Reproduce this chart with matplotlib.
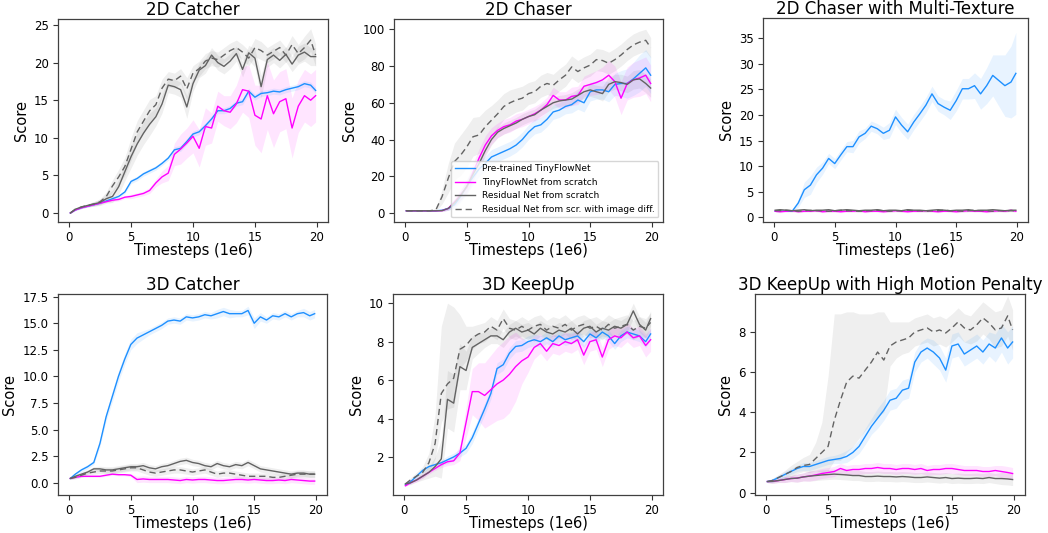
import numpy as np
import matplotlib
matplotlib.use("Agg")
import matplotlib.pyplot as plt

# timesteps (1e6), one reading every 0.5
steps = [0.1] + [0.5 * i for i in range(1, 40)] + [19.9]

labels = ["Pre-trained TinyFlowNet", "TinyFlowNet from scratch",
          "Residual Net from scratch", "Residual Net from scr. with image diff."]

# ---- 2D Catcher
catcher2d_pre = [0.0, 0.4, 0.7, 0.9, 1.1, 1.3, 1.6, 1.9, 2.2, 2.8,
                 4.2, 4.6, 5.2, 5.6, 6.0, 6.6, 7.3, 8.4, 8.6, 9.5,
                 10.5, 10.8, 11.6, 12.5, 13.6, 13.6, 13.9, 14.6, 14.8, 16.2,
                 15.4, 15.9, 16.0, 16.2, 16.1, 16.4, 16.6, 16.8, 17.2, 17.0, 16.3]
catcher2d_scr = [0.0, 0.4, 0.7, 0.9, 1.1, 1.3, 1.5, 1.7, 1.8, 2.1,
                 2.2, 2.4, 2.6, 3.0, 4.0, 4.8, 5.3, 7.8, 8.5, 9.3,
                 10.2, 8.6, 11.5, 11.3, 14.2, 13.6, 13.4, 14.5, 16.4, 16.2,
                 13.0, 12.5, 15.6, 13.2, 14.8, 15.2, 11.3, 14.2, 15.6, 15.0, 15.6]
catcher2d_res = [0.0, 0.5, 0.8, 1.0, 1.2, 1.4, 1.9, 2.2, 3.5, 5.5,
                 7.5, 9.2, 10.6, 11.8, 12.8, 14.5, 17.0, 16.8, 16.4, 14.1,
                 17.2, 19.0, 19.6, 21.0, 20.0, 19.5, 20.2, 21.2, 19.1, 21.3,
                 20.6, 16.8, 20.4, 21.0, 20.3, 21.1, 19.8, 21.0, 21.4, 20.8, 20.8]
catcher2d_diff = [0.0, 0.5, 0.8, 1.0, 1.2, 1.5, 2.2, 3.6, 4.8, 6.2,
                  8.5, 10.8, 12.2, 13.6, 14.4, 16.6, 17.8, 17.6, 18.2, 16.5,
                  18.6, 19.2, 20.2, 20.6, 20.4, 21.0, 21.6, 22.0, 21.4, 20.6,
                  22.0, 21.6, 21.0, 21.5, 22.0, 21.0, 22.4, 21.2, 22.0, 23.0, 21.0]
catcher2d_pre_sd = [0.05, 0.1, 0.1, 0.1, 0.1, 0.1, 0.15, 0.2, 0.2, 0.2,
                    0.3, 0.3, 0.3, 0.3, 0.3, 0.3, 0.3, 0.4, 0.4, 0.4,
                    0.4, 0.4, 0.4, 0.4, 0.4, 0.4, 0.4, 0.4, 0.4, 0.4,
                    0.4, 0.4, 0.4, 0.4, 0.4, 0.4, 0.4, 0.4, 0.4, 0.4, 0.4]
catcher2d_scr_sd = [0.05, 0.1, 0.1, 0.1, 0.1, 0.1, 0.1, 0.2, 0.2, 0.2,
                    0.3, 0.3, 0.3, 0.4, 0.5, 0.8, 1.0, 1.5, 2.0, 2.0,
                    2.2, 2.5, 2.5, 2.0, 2.0, 2.0, 2.2, 2.5, 3.0, 3.5,
                    4.0, 4.5, 4.5, 4.5, 4.0, 4.0, 4.0, 3.5, 3.5, 3.5, 3.5]
catcher2d_res_sd = [0.05, 0.1, 0.2, 0.2, 0.3, 0.4, 0.6, 0.8, 1.0, 1.2,
                    1.5, 1.5, 1.5, 1.5, 1.2, 1.2, 1.0, 1.0, 1.0, 1.5,
                    1.0, 1.0, 1.0, 1.0, 1.0, 1.0, 1.0, 1.0, 1.0, 1.0,
                    1.2, 1.5, 1.0, 1.0, 1.0, 1.0, 1.0, 1.2, 1.2, 1.2, 1.2]
catcher2d_diff_sd = [0.05, 0.1, 0.2, 0.2, 0.3, 0.4, 0.6, 0.8, 1.0, 1.2,
                     1.5, 1.5, 1.5, 1.5, 1.2, 1.2, 1.0, 1.0, 1.0, 1.5,
                     1.0, 1.0, 1.0, 1.0, 1.0, 1.0, 1.0, 1.0, 1.0, 1.0,
                     1.2, 1.2, 1.0, 1.0, 1.0, 1.0, 1.2, 1.2, 1.5, 1.5, 1.5]

# ---- 2D Chaser
chaser_pre = [1.2, 1.2, 1.2, 1.2, 1.2, 1.2, 1.5, 2.5, 4.5, 9.0,
              14.5, 19.5, 24.0, 27.0, 30.5, 32.0, 33.5, 35.0, 37.0, 40.0,
              44.0, 47.0, 48.0, 51.0, 55.0, 56.0, 58.0, 59.0, 61.5, 60.0,
              66.0, 67.0, 67.0, 66.0, 70.0, 70.5, 70.5, 73.0, 76.0, 79.0, 75.0]
chaser_scr = [1.2, 1.2, 1.2, 1.2, 1.2, 1.2, 1.3, 2.5, 6.0, 10.0,
              14.0, 22.0, 30.0, 37.0, 42.0, 45.0, 47.0, 48.0, 50.0, 51.0,
              52.5, 54.0, 56.0, 59.0, 64.0, 61.5, 61.5, 63.5, 64.0, 69.0,
              70.0, 71.0, 72.5, 75.0, 71.5, 62.5, 70.5, 72.5, 73.5, 75.0, 70.5]
chaser_res = [1.2, 1.2, 1.2, 1.2, 1.2, 1.2, 1.3, 2.5, 5.5, 9.5,
              14.5, 21.0, 27.0, 34.0, 40.0, 44.0, 46.0, 47.5, 49.0, 51.0,
              52.5, 53.5, 56.0, 58.0, 60.0, 61.0, 61.5, 62.0, 64.0, 66.0,
              67.0, 66.0, 65.0, 70.0, 71.5, 71.0, 70.0, 72.5, 73.0, 70.5, 68.0]
chaser_diff = [1.2, 1.2, 1.2, 1.2, 1.2, 1.8, 9.0, 19.0, 28.0, 31.5,
               36.0, 41.5, 42.5, 47.0, 50.5, 54.0, 58.0, 60.0, 61.5, 62.5,
               65.0, 66.0, 69.0, 70.5, 69.5, 72.5, 75.0, 79.5, 77.0, 79.0,
               80.5, 83.5, 83.0, 81.5, 83.5, 86.0, 89.0, 91.5, 93.0, 94.0, 90.0]
chaser_pre_sd = [0.2, 0.2, 0.2, 0.2, 0.2, 0.2, 0.5, 1.0, 2.0, 3.0,
                 4.0, 4.0, 4.0, 4.0, 4.0, 4.0, 4.0, 4.0, 4.0, 4.0,
                 4.0, 4.0, 4.0, 4.0, 4.0, 4.0, 4.0, 4.5, 5.0, 5.0,
                 5.0, 5.0, 5.0, 5.5, 6.0, 7.0, 8.0, 9.0, 10.0, 10.0, 10.0]
chaser_scr_sd = [0.2, 0.2, 0.2, 0.2, 0.2, 0.2, 0.5, 1.0, 2.0, 3.0,
                 4.0, 5.0, 5.0, 5.0, 4.5, 4.0, 4.0, 4.0, 4.0, 4.0,
                 4.0, 4.0, 4.0, 4.0, 4.5, 4.5, 4.5, 5.0, 5.0, 5.5,
                 6.0, 6.5, 7.0, 8.0, 8.5, 9.0, 9.0, 9.5, 10.0, 10.0, 10.0]
chaser_res_sd = [0.2, 0.2, 0.2, 0.2, 0.2, 0.2, 0.5, 1.0, 2.0, 2.5,
                 3.0, 3.0, 3.0, 3.0, 3.0, 3.0, 3.0, 3.0, 3.0, 3.0,
                 3.0, 3.0, 3.0, 3.0, 3.0, 3.0, 3.0, 3.5, 3.5, 3.5,
                 3.5, 3.5, 4.0, 4.0, 4.0, 4.5, 4.5, 5.0, 5.0, 5.0, 5.0]
chaser_diff_sd = [0.2, 0.2, 0.2, 0.2, 0.2, 0.8, 4.0, 8.0, 10.0, 11.0,
                  11.0, 10.5, 10.0, 9.0, 8.0, 7.5, 7.0, 7.0, 6.5, 6.5,
                  6.0, 6.0, 6.0, 6.0, 6.0, 6.0, 6.0, 6.0, 6.0, 6.0,
                  6.0, 6.0, 6.0, 6.0, 6.0, 6.0, 6.0, 6.0, 6.0, 6.0, 5.5]

# ---- 2D Chaser with Multi-Texture
texture_pre = [1.2, 1.2, 1.2, 1.2, 2.8, 5.4, 6.3, 8.3, 9.6, 11.5,
               10.5, 12.2, 13.8, 13.8, 15.7, 16.4, 17.8, 17.3, 16.4, 17.0,
               19.6, 18.0, 16.7, 18.6, 20.2, 21.9, 24.1, 22.2, 21.5, 20.9,
               22.8, 25.1, 25.1, 25.7, 24.1, 25.7, 27.7, 26.7, 25.7, 26.4, 28.1]
texture_scr = [1.2, 1.1, 1.2, 1.3, 1.1, 1.2, 1.2, 1.3, 1.1, 1.2,
               1.2, 1.1, 1.2, 1.2, 1.3, 1.1, 1.2, 1.2, 1.1, 1.2,
               1.3, 1.2, 1.1, 1.2, 1.2, 1.3, 1.2, 1.1, 1.2, 1.2,
               1.1, 1.2, 1.3, 1.2, 1.2, 1.1, 1.2, 1.3, 1.2, 1.4, 1.2]
texture_res = [1.4, 1.5, 1.4, 1.3, 1.4, 1.5, 1.3, 1.4, 1.4, 1.5,
               1.3, 1.4, 1.5, 1.4, 1.3, 1.4, 1.4, 1.5, 1.3, 1.4,
               1.4, 1.3, 1.5, 1.4, 1.4, 1.3, 1.4, 1.5, 1.4, 1.3,
               1.4, 1.4, 1.5, 1.3, 1.4, 1.4, 1.5, 1.4, 1.3, 1.4, 1.4]
texture_diff = [1.3, 1.3, 1.4, 1.3, 1.2, 1.3, 1.4, 1.3, 1.3, 1.2,
                1.3, 1.4, 1.3, 1.3, 1.2, 1.3, 1.3, 1.4, 1.3, 1.2,
                1.3, 1.3, 1.4, 1.3, 1.3, 1.2, 1.3, 1.3, 1.4, 1.3,
                1.3, 1.2, 1.3, 1.4, 1.3, 1.3, 1.2, 1.3, 1.3, 1.3, 1.3]
texture_pre_sd = [0.1, 0.1, 0.1, 0.1, 0.8, 1.5, 1.8, 1.5, 1.2, 1.0,
                  1.0, 1.0, 1.0, 1.2, 1.2, 1.0, 1.0, 1.0, 1.2, 1.5,
                  1.5, 1.5, 1.5, 1.5, 1.5, 1.5, 1.5, 1.5, 1.5, 1.8,
                  2.0, 2.0, 2.0, 2.5, 3.0, 3.5, 4.0, 5.0, 6.0, 7.0, 8.0]
texture_flat_sd = [0.2] * 41

# ---- 3D Catcher
catcher3d_pre = [0.4, 0.8, 1.2, 1.5, 1.9, 3.7, 6.2, 8.1, 10.0, 11.6,
                 13.0, 13.6, 13.9, 14.2, 14.5, 14.8, 15.2, 15.3, 15.2, 15.6,
                 15.5, 15.6, 15.8, 15.7, 15.9, 16.1, 15.9, 15.9, 15.9, 16.2,
                 15.0, 15.6, 15.3, 15.7, 15.6, 15.9, 15.6, 15.9, 16.0, 15.7, 15.9]
catcher3d_scr = [0.4, 0.5, 0.6, 0.6, 0.6, 0.6, 0.7, 0.8, 0.75, 0.75,
                 0.7, 0.3, 0.35, 0.3, 0.3, 0.3, 0.3, 0.25, 0.2, 0.3,
                 0.25, 0.3, 0.3, 0.25, 0.2, 0.2, 0.25, 0.3, 0.3, 0.25,
                 0.3, 0.25, 0.2, 0.2, 0.25, 0.2, 0.3, 0.25, 0.2, 0.15, 0.15]
catcher3d_res = [0.4, 0.6, 0.8, 1.0, 1.3, 1.3, 1.2, 1.2, 1.3, 1.4,
                 1.5, 1.5, 1.6, 1.4, 1.3, 1.5, 1.6, 1.8, 2.0, 2.1,
                 1.9, 1.8, 1.6, 1.5, 1.8, 1.6, 1.5, 1.7, 1.6, 1.9,
                 1.6, 1.3, 1.2, 1.1, 1.0, 0.9, 0.8, 0.9, 0.9, 0.8, 0.8]
catcher3d_diff = [0.4, 0.5, 0.7, 0.9, 1.0, 1.1, 1.1, 1.1, 1.2, 1.3,
                  1.4, 1.4, 1.2, 1.0, 0.9, 1.0, 1.1, 1.2, 1.2, 1.1,
                  1.0, 1.1, 1.2, 1.0, 0.8, 0.9, 0.9, 0.8, 0.7, 0.6,
                  0.6, 0.6, 0.6, 0.5, 0.5, 0.6, 0.7, 0.8, 0.8, 0.8, 0.8]
catcher3d_pre_sd = [0.1, 0.15, 0.2, 0.2, 0.2, 0.3, 0.4, 0.5, 0.5, 0.5,
                    0.5, 0.5, 0.4, 0.3, 0.3, 0.3, 0.3, 0.3, 0.3, 0.3,
                    0.3, 0.3, 0.3, 0.3, 0.4, 0.4, 0.4, 0.3, 0.3, 0.4,
                    0.5, 0.4, 0.3, 0.3, 0.3, 0.3, 0.3, 0.3, 0.4, 0.4, 0.4]
catcher3d_scr_sd = [0.05, 0.1, 0.1, 0.1, 0.1, 0.1, 0.1, 0.1, 0.1, 0.1,
                    0.15, 0.3, 0.3, 0.3, 0.3, 0.3, 0.3, 0.3, 0.3, 0.3,
                    0.3, 0.3, 0.3, 0.3, 0.3, 0.3, 0.3, 0.3, 0.3, 0.3,
                    0.3, 0.3, 0.3, 0.3, 0.3, 0.3, 0.3, 0.3, 0.3, 0.3, 0.3]
catcher3d_gray_sd = [0.1, 0.15, 0.2, 0.2, 0.2, 0.25, 0.3, 0.3, 0.3, 0.3,
                     0.3, 0.3, 0.3, 0.3, 0.3, 0.3, 0.3, 0.3, 0.3, 0.3,
                     0.3, 0.3, 0.3, 0.3, 0.3, 0.3, 0.3, 0.3, 0.3, 0.3,
                     0.3, 0.3, 0.3, 0.3, 0.3, 0.3, 0.3, 0.3, 0.3, 0.3, 0.3]

# ---- 3D KeepUp
keepup_pre = [0.55, 0.7, 1.0, 1.3, 1.5, 1.6, 1.7, 1.85, 2.0, 2.2,
              2.45, 3.0, 3.75, 4.5, 5.3, 6.6, 6.8, 7.4, 7.75, 7.8,
              8.0, 8.1, 8.0, 8.2, 8.0, 8.3, 8.1, 8.2, 8.3, 8.0,
              8.4, 8.2, 8.5, 8.3, 7.9, 8.3, 8.5, 8.4, 8.3, 8.0, 8.4]
keepup_scr = [0.5, 0.65, 0.8, 1.0, 1.2, 1.4, 1.6, 1.75, 1.8, 2.2,
              3.8, 5.4, 5.4, 5.2, 5.5, 5.8, 6.0, 6.3, 6.7, 7.0,
              7.2, 7.7, 7.9, 7.5, 7.9, 7.8, 8.0, 7.9, 8.1, 7.3,
              8.0, 8.1, 7.2, 8.1, 8.3, 8.2, 8.5, 8.2, 8.3, 7.8, 8.1]
keepup_res = [0.6, 0.65, 0.8, 1.0, 1.2, 1.5, 1.9, 5.0, 4.8, 6.7,
              6.5, 7.7, 7.9, 8.1, 8.3, 8.3, 8.1, 8.5, 8.7, 8.5,
              8.6, 8.4, 8.7, 8.5, 8.4, 8.6, 8.5, 8.7, 8.4, 8.7,
              8.8, 8.5, 8.7, 8.6, 8.8, 8.7, 8.9, 9.6, 8.9, 8.6, 9.2]
keepup_diff = [0.6, 0.8, 1.0, 1.2, 1.7, 2.7, 5.3, 5.8, 6.1, 7.6,
               7.8, 8.2, 8.4, 8.5, 8.8, 8.6, 9.2, 8.7, 8.6, 8.8,
               8.6, 8.8, 8.9, 8.6, 8.8, 8.7, 8.9, 8.6, 8.8, 8.9,
               8.7, 8.8, 8.6, 8.9, 8.7, 8.8, 8.9, 8.6, 8.8, 8.7, 9.0]
keepup_pre_sd = [0.05, 0.1, 0.1, 0.1, 0.1, 0.1, 0.15, 0.2, 0.2, 0.2,
                 0.25, 0.3, 0.3, 0.3, 0.3, 0.3, 0.3, 0.3, 0.3, 0.3,
                 0.3, 0.3, 0.3, 0.3, 0.3, 0.3, 0.3, 0.3, 0.3, 0.3,
                 0.3, 0.3, 0.3, 0.3, 0.3, 0.3, 0.3, 0.3, 0.3, 0.3, 0.3]
keepup_scr_sd = [0.05, 0.05, 0.1, 0.1, 0.1, 0.1, 0.15, 0.2, 0.2, 0.4,
                 0.8, 1.2, 1.5, 1.7, 1.8, 1.9, 2.0, 2.0, 1.8, 1.2,
                 0.8, 0.6, 0.5, 0.5, 0.5, 0.5, 0.5, 0.5, 0.5, 0.5,
                 0.5, 0.5, 0.5, 0.5, 0.5, 0.5, 0.5, 0.5, 0.5, 0.6, 0.6]
keepup_res_sd = [0.05, 0.1, 0.1, 0.2, 0.3, 0.5, 1.0, 1.5, 1.5, 1.2,
                 1.0, 0.6, 0.5, 0.4, 0.4, 0.4, 0.4, 0.4, 0.4, 0.4,
                 0.4, 0.4, 0.4, 0.4, 0.4, 0.4, 0.4, 0.4, 0.4, 0.4,
                 0.4, 0.4, 0.4, 0.4, 0.4, 0.4, 0.4, 0.4, 0.4, 0.4, 0.4]
keepup_diff_below = [0.05, 0.1, 0.2, 0.3, 0.5, 0.8, 1.5, 1.3, 1.5, 1.0,
                     0.8, 0.6, 0.5, 0.5, 0.5, 0.5, 0.5, 0.5, 0.5, 0.5,
                     0.5, 0.5, 0.5, 0.5, 0.5, 0.5, 0.5, 0.5, 0.5, 0.5,
                     0.5, 0.5, 0.5, 0.5, 0.5, 0.5, 0.5, 0.5, 0.5, 0.5, 0.5]
keepup_diff_above = [0.05, 0.1, 0.2, 0.3, 0.5, 1.5, 3.5, 4.2, 3.7, 1.8,
                     1.0, 0.6, 0.5, 0.5, 0.5, 0.5, 0.5, 0.5, 0.5, 0.5,
                     0.5, 0.5, 0.5, 0.5, 0.5, 0.5, 0.5, 0.5, 0.5, 0.5,
                     0.5, 0.5, 0.5, 0.5, 0.5, 0.5, 0.5, 0.5, 0.5, 0.5, 0.5]

# ---- 3D KeepUp with High Motion Penalty
motion_pre = [0.55, 0.6, 0.75, 0.9, 1.05, 1.2, 1.3, 1.3, 1.4, 1.5,
              1.6, 1.65, 1.7, 1.8, 2.0, 2.3, 2.8, 3.3, 3.7, 4.1,
              4.6, 4.7, 5.1, 5.2, 6.5, 7.0, 7.2, 7.0, 6.7, 6.1,
              7.3, 7.4, 6.9, 7.1, 7.3, 7.0, 7.4, 7.2, 7.7, 7.2, 7.5]
motion_scr = [0.55, 0.56, 0.6, 0.65, 0.7, 0.72, 0.78, 0.82, 0.88, 0.95,
              1.0, 1.05, 1.2, 1.1, 1.15, 1.15, 1.2, 1.2, 1.25, 1.2,
              1.2, 1.15, 1.2, 1.2, 1.15, 1.2, 1.1, 1.15, 1.15, 1.2,
              1.2, 1.15, 1.1, 1.1, 1.1, 1.05, 1.05, 1.1, 1.05, 1.0, 0.95]
motion_res = [0.55, 0.56, 0.6, 0.65, 0.7, 0.72, 0.78, 0.82, 0.85, 0.88,
              0.9, 0.92, 0.9, 0.88, 0.85, 0.85, 0.8, 0.8, 0.82, 0.8,
              0.8, 0.78, 0.8, 0.78, 0.75, 0.75, 0.78, 0.75, 0.72, 0.75,
              0.7, 0.72, 0.7, 0.7, 0.72, 0.7, 0.75, 0.7, 0.7, 0.68, 0.65]
motion_diff = [0.55, 0.6, 0.75, 0.9, 1.05, 1.25, 1.35, 1.4, 1.7, 2.0,
               2.3, 3.6, 4.6, 5.5, 5.8, 5.7, 6.1, 6.5, 7.0, 6.6,
               7.3, 7.5, 7.6, 7.7, 8.0, 8.1, 8.2, 8.0, 8.1, 7.95,
               8.2, 8.5, 8.2, 8.1, 8.35, 8.7, 8.45, 8.1, 8.2, 8.8, 8.1]
motion_pre_sd = [0.05, 0.1, 0.1, 0.15, 0.15, 0.15, 0.2, 0.2, 0.2, 0.2,
                 0.2, 0.2, 0.25, 0.3, 0.3, 0.35, 0.4, 0.4, 0.5, 0.5,
                 0.5, 0.5, 0.5, 0.5, 0.5, 0.5, 0.5, 0.6, 0.6, 0.6,
                 0.6, 0.6, 0.6, 0.6, 0.6, 0.6, 0.6, 0.7, 0.7, 0.8, 0.8]
motion_low_sd = [0.05, 0.1, 0.1, 0.15, 0.15, 0.2, 0.2, 0.25, 0.25, 0.25,
                 0.25, 0.25, 0.25, 0.25, 0.25, 0.25, 0.25, 0.25, 0.25, 0.25,
                 0.25, 0.25, 0.25, 0.25, 0.25, 0.25, 0.25, 0.25, 0.25, 0.25,
                 0.25, 0.25, 0.25, 0.25, 0.25, 0.25, 0.25, 0.25, 0.3, 0.3, 0.3]
motion_diff_below = [0.05, 0.1, 0.15, 0.2, 0.3, 0.3, 0.3, 0.4, 0.6, 1.0,
                     1.2, 2.0, 3.0, 3.5, 3.5, 3.0, 3.0, 3.0, 3.2, 2.6,
                     1.0, 0.8, 0.7, 0.7, 0.7, 0.7, 0.7, 0.7, 0.7, 0.7,
                     0.7, 0.7, 0.7, 0.7, 0.8, 0.8, 0.8, 0.9, 0.9, 1.0, 1.0]
motion_diff_above = [0.05, 0.1, 0.15, 0.2, 0.3, 0.3, 0.4, 0.5, 0.8, 1.5,
                     3.5, 5.3, 4.3, 3.5, 3.2, 3.2, 2.8, 2.4, 2.0, 2.4,
                     1.2, 1.0, 0.9, 0.8, 0.7, 0.7, 0.7, 0.7, 0.7, 0.7,
                     0.7, 0.7, 0.7, 0.7, 0.8, 0.8, 0.8, 0.9, 0.9, 1.0, 1.0]

colors = ["#1E90FF", "#FF00FF", "#636363", "#636363"]
styles = ["-", "-", "-", "--"]

panels = [
    ("2D Catcher", [catcher2d_pre, catcher2d_scr, catcher2d_res, catcher2d_diff],
     [catcher2d_pre_sd, catcher2d_scr_sd, catcher2d_res_sd, catcher2d_diff_sd],
     (-1.2, 25.8), [0, 5, 10, 15, 20, 25]),
    ("2D Chaser", [chaser_pre, chaser_scr, chaser_res, chaser_diff],
     [chaser_pre_sd, chaser_scr_sd, chaser_res_sd, chaser_diff_sd],
     (-4.9, 105.6), [0, 20, 40, 60, 80, 100]),
    ("2D Chaser with Multi-Texture", [texture_pre, texture_scr, texture_res, texture_diff],
     [texture_pre_sd, texture_flat_sd, texture_flat_sd, texture_flat_sd],
     (-0.9, 38.9), [0, 5, 10, 15, 20, 25, 30, 35]),
    ("3D Catcher", [catcher3d_pre, catcher3d_scr, catcher3d_res, catcher3d_diff],
     [catcher3d_pre_sd, catcher3d_scr_sd, catcher3d_gray_sd, catcher3d_gray_sd],
     (-1.16, 17.75), [0.0, 2.5, 5.0, 7.5, 10.0, 12.5, 15.0, 17.5]),
    ("3D KeepUp", [keepup_pre, keepup_scr, keepup_res, keepup_diff],
     [keepup_pre_sd, keepup_scr_sd, keepup_res_sd,
      (keepup_diff_below, keepup_diff_above)],
     (0.02, 10.48), [2, 4, 6, 8, 10]),
    ("3D KeepUp with High Motion Penalty", [motion_pre, motion_scr, motion_res, motion_diff],
     [motion_pre_sd, motion_low_sd, motion_low_sd,
      (motion_diff_below, motion_diff_above)],
     (-0.12, 9.89), [0, 2, 4, 6, 8]),
]

# axes boxes in pixels: left, top, right, bottom
boxes = [(58, 19, 328, 222), (394, 19, 663, 222), (763, 18, 1028, 222),
         (58, 294, 327, 495), (393, 294, 663, 495), (755, 294, 1025, 495)]
W, H = 1048, 533


def draw_panel(ax, title, series, spreads, ylim, yticks, show_legend):
    x = np.array(steps)
    for i in [3, 2, 1, 0]:
        y = np.array(series[i])
        if isinstance(spreads[i], tuple):
            lo, hi = np.array(spreads[i][0]), np.array(spreads[i][1])
        else:
            lo = hi = np.array(spreads[i])
        ax.fill_between(x, y - lo, y + hi, color=colors[i], alpha=0.1, lw=0)
    for i in range(4):
        line, = ax.plot(x, series[i], color=colors[i], ls=styles[i], lw=1.0,
                        label=labels[i])
        if styles[i] == "--":
            line.set_dashes((4.5, 2.8))
    ax.set_xlim(-0.9, 20.9)
    ax.set_ylim(*ylim)
    ax.set_xticks([0, 5, 10, 15, 20])
    ax.set_yticks(yticks)
    ax.tick_params(labelsize=8.5, length=3.5, width=0.8, color="0.2", pad=3)
    for s in ax.spines.values():
        s.set_color("0.25")
        s.set_linewidth(0.9)
    ax.set_title(title, fontsize=12, pad=1.5)
    ax.set_xlabel("Timesteps (1e6)", fontsize=10.5, labelpad=-1)
    ax.set_ylabel("Score", fontsize=10.5)
    if show_legend:
        ax.legend(loc="lower right", fontsize=6.5, handlelength=2.2,
                  borderaxespad=0.5, framealpha=0.8)


def main():
    fig = plt.figure(figsize=(W / 100, H / 100), dpi=100)
    for k, (title, series, spreads, ylim, yticks) in enumerate(panels):
        l, t, r, b = boxes[k]
        ax = fig.add_axes([l / W, 1 - b / H, (r - l) / W, (b - t) / H])
        draw_panel(ax, title, series, spreads, ylim, yticks, k == 1)
    fig.savefig("out.png", dpi=100)


if __name__ == "__main__":
    main()
